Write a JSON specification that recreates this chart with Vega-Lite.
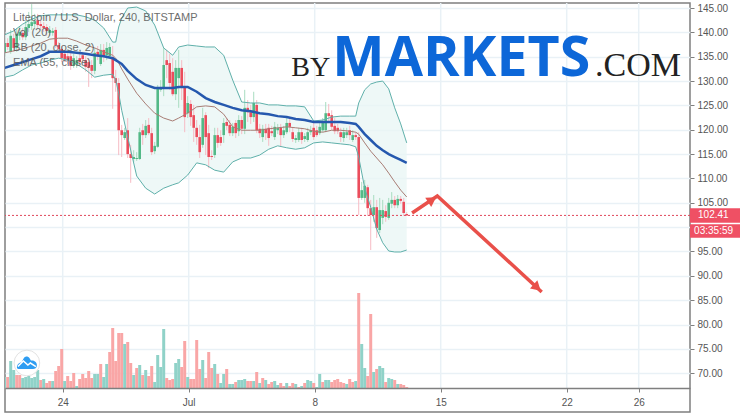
{
"$schema":"https://vega.github.io/schema/vega-lite/v6.json",
"width":685,"height":409,"autosize":"none",
"padding":{"left":5,"top":3,"right":50,"bottom":6},
"background":"white",
"view":{"stroke":"#7f7f7f","strokeWidth":1.5,"fill":"white"},
"config":{"text":{"font":"Liberation Sans"},"axis":{"labelFont":"Liberation Sans"}},
"datasets":{
"candles":[
{"k":-19,"o":135.8,"c":137.8,"h":138.8,"l":135.1},{"k":-18,"o":137.8,"c":137.0,"h":138.8,"l":136.4},{"k":-17,"o":136.0,"c":139.3,"h":140.5,"l":135.6},{"k":-16,"o":138.8,"c":136.8,"h":139.7,"l":136.0},{"k":-15,"o":136.8,"c":139.7,"h":140.9,"l":136.0},{"k":-14,"o":139.3,"c":140.1,"h":141.3,"l":138.4},{"k":-13,"o":139.9,"c":139.0,"h":140.9,"l":138.4},{"k":-12,"o":139.0,"c":141.1,"h":142.5,"l":138.4},{"k":-11,"o":140.9,"c":141.7,"h":144.2,"l":140.1},{"k":-10,"o":141.3,"c":142.1,"h":145.8,"l":140.5},
{"k":-9,"o":141.7,"c":142.3,"h":143.8,"l":140.9},{"k":-8,"o":142.5,"c":141.5,"h":143.8,"l":140.9},{"k":-7,"o":141.7,"c":141.3,"h":142.5,"l":140.5},{"k":-6,"o":141.3,"c":140.9,"h":142.1,"l":140.1},{"k":-5,"o":141.1,"c":140.3,"h":141.7,"l":139.3},{"k":-4,"o":139.9,"c":140.5,"h":141.3,"l":139.3},{"k":-3,"o":139.9,"c":140.3,"h":140.9,"l":139.3},{"k":-2,"o":140.5,"c":137.4,"h":141.1,"l":136.8},{"k":-1,"o":137.4,"c":136.6,"h":138.0,"l":136.0},{"k":0,"o":136.6,"c":134.7,"h":137.2,"l":133.9},
{"k":1,"o":135.6,"c":134.5,"h":136.4,"l":133.9},{"k":2,"o":135.1,"c":134.3,"h":136.0,"l":133.5},{"k":3,"o":135.1,"c":133.1,"h":136.0,"l":132.3},{"k":4,"o":133.1,"c":134.7,"h":135.6,"l":132.7},{"k":5,"o":133.3,"c":134.3,"h":135.1,"l":132.7},{"k":6,"o":134.7,"c":133.9,"h":135.6,"l":133.1},{"k":7,"o":135.3,"c":134.5,"h":136.0,"l":133.9},{"k":8,"o":134.3,"c":132.9,"h":135.1,"l":131.9},{"k":9,"o":133.9,"c":132.7,"h":134.7,"l":128.8},{"k":10,"o":133.3,"c":132.1,"h":134.3,"l":130.6},
{"k":11,"o":132.1,"c":135.8,"h":136.8,"l":131.4},{"k":12,"o":136.0,"c":135.3,"h":137.2,"l":134.3},{"k":13,"o":133.5,"c":136.4,"h":137.6,"l":133.1},{"k":14,"o":136.4,"c":135.1,"h":137.6,"l":133.9},{"k":15,"o":135.3,"c":136.8,"h":138.0,"l":134.3},{"k":16,"o":135.1,"c":137.0,"h":137.8,"l":134.7},{"k":17,"o":134.9,"c":130.6,"h":137.2,"l":124.3},{"k":18,"o":130.6,"c":129.6,"h":132.3,"l":127.8},{"k":19,"o":129.6,"c":119.9,"h":130.6,"l":114.8},{"k":20,"o":119.9,"c":118.9,"h":121.0,"l":114.4},
{"k":21,"o":118.3,"c":119.5,"h":120.4,"l":117.9},{"k":22,"o":119.9,"c":115.0,"h":122.4,"l":114.2},{"k":23,"o":115.0,"c":114.2,"h":116.9,"l":109.1},{"k":24,"o":114.0,"c":114.4,"h":115.8,"l":113.4},{"k":25,"o":114.0,"c":114.2,"h":115.4,"l":113.6},{"k":26,"o":114.0,"c":119.5,"h":120.4,"l":113.8},{"k":27,"o":119.9,"c":118.9,"h":121.2,"l":116.9},{"k":28,"o":118.9,"c":120.8,"h":122.0,"l":118.3},{"k":29,"o":121.0,"c":119.3,"h":122.4,"l":118.9},{"k":30,"o":119.3,"c":115.4,"h":120.4,"l":114.8},
{"k":31,"o":115.6,"c":116.7,"h":117.5,"l":115.0},{"k":32,"o":116.5,"c":128.6,"h":129.2,"l":116.3},{"k":33,"o":128.2,"c":128.6,"h":130.2,"l":127.8},{"k":34,"o":128.6,"c":133.3,"h":136.8,"l":126.9},{"k":35,"o":134.3,"c":133.3,"h":136.4,"l":130.6},{"k":36,"o":133.7,"c":129.6,"h":135.6,"l":128.2},{"k":37,"o":131.9,"c":127.3,"h":134.7,"l":126.9},{"k":38,"o":127.3,"c":132.7,"h":134.3,"l":126.1},{"k":39,"o":130.6,"c":132.7,"h":136.4,"l":124.5},{"k":40,"o":132.7,"c":128.6,"h":134.3,"l":126.1},
{"k":41,"o":128.8,"c":122.6,"h":131.9,"l":119.5},{"k":42,"o":123.4,"c":125.5,"h":126.9,"l":122.4},{"k":43,"o":125.3,"c":122.6,"h":126.1,"l":120.8},{"k":44,"o":123.0,"c":120.4,"h":125.1,"l":117.5},{"k":45,"o":120.4,"c":118.5,"h":122.0,"l":116.9},{"k":46,"o":118.5,"c":115.4,"h":121.0,"l":114.2},{"k":47,"o":116.9,"c":122.4,"h":124.5,"l":116.3},{"k":48,"o":123.0,"c":118.5,"h":123.6,"l":114.8},{"k":49,"o":119.3,"c":114.4,"h":121.0,"l":112.1},{"k":50,"o":114.6,"c":114.4,"h":115.8,"l":113.8},
{"k":51,"o":114.8,"c":118.9,"h":120.4,"l":114.2},{"k":52,"o":118.9,"c":117.3,"h":120.4,"l":116.3},{"k":53,"o":118.5,"c":117.3,"h":119.9,"l":116.7},{"k":54,"o":118.9,"c":121.4,"h":122.4,"l":117.3},{"k":55,"o":121.6,"c":120.8,"h":122.4,"l":119.9},{"k":56,"o":121.0,"c":119.3,"h":122.0,"l":118.7},{"k":57,"o":119.3,"c":120.6,"h":121.4,"l":118.7},{"k":58,"o":121.4,"c":119.3,"h":122.0,"l":118.3},{"k":59,"o":119.7,"c":122.0,"h":123.0,"l":118.7},{"k":60,"o":122.0,"c":120.2,"h":122.8,"l":119.1},
{"k":61,"o":120.2,"c":124.5,"h":128.2,"l":119.1},{"k":62,"o":124.5,"c":123.6,"h":126.1,"l":121.6},{"k":63,"o":123.6,"c":122.6,"h":125.1,"l":121.2},{"k":64,"o":122.6,"c":125.5,"h":127.8,"l":121.6},{"k":65,"o":125.1,"c":119.9,"h":126.1,"l":119.3},{"k":66,"o":120.2,"c":119.3,"h":121.2,"l":118.3},{"k":67,"o":118.5,"c":120.2,"h":121.0,"l":117.5},{"k":68,"o":120.2,"c":119.3,"h":121.2,"l":117.9},{"k":69,"o":120.4,"c":118.3,"h":121.2,"l":116.7},{"k":70,"o":119.7,"c":119.3,"h":120.8,"l":118.7},
{"k":71,"o":118.5,"c":120.6,"h":121.6,"l":117.9},{"k":72,"o":119.9,"c":120.4,"h":121.2,"l":119.1},{"k":73,"o":120.4,"c":118.9,"h":121.2,"l":116.5},{"k":74,"o":118.9,"c":119.9,"h":120.8,"l":118.3},{"k":75,"o":119.5,"c":121.4,"h":122.8,"l":119.1},{"k":76,"o":121.4,"c":120.6,"h":122.4,"l":119.5},{"k":77,"o":119.5,"c":118.1,"h":120.4,"l":117.5},{"k":78,"o":117.9,"c":118.3,"h":118.9,"l":117.3},{"k":79,"o":117.9,"c":119.5,"h":120.4,"l":117.5},{"k":80,"o":119.5,"c":117.9,"h":120.4,"l":117.1},
{"k":81,"o":118.1,"c":118.7,"h":119.3,"l":117.5},{"k":82,"o":117.9,"c":119.5,"h":120.4,"l":117.5},{"k":83,"o":119.5,"c":119.9,"h":120.8,"l":118.9},{"k":84,"o":120.4,"c":118.5,"h":121.6,"l":117.9},{"k":85,"o":119.9,"c":118.9,"h":120.8,"l":118.5},{"k":86,"o":119.3,"c":120.6,"h":121.6,"l":118.9},{"k":87,"o":119.9,"c":121.6,"h":122.4,"l":119.5},{"k":88,"o":119.9,"c":123.4,"h":125.7,"l":119.5},{"k":89,"o":123.4,"c":122.8,"h":125.3,"l":121.6},{"k":90,"o":123.0,"c":120.6,"h":124.0,"l":119.9},
{"k":91,"o":120.8,"c":119.7,"h":122.4,"l":119.1},{"k":92,"o":120.4,"c":119.7,"h":121.2,"l":119.1},{"k":93,"o":119.5,"c":118.5,"h":120.4,"l":117.5},{"k":94,"o":118.3,"c":119.5,"h":120.4,"l":117.5},{"k":95,"o":118.9,"c":119.5,"h":120.4,"l":118.3},{"k":96,"o":119.9,"c":118.9,"h":120.8,"l":117.9},{"k":97,"o":117.9,"c":118.9,"h":119.9,"l":117.5},{"k":98,"o":118.9,"c":118.5,"h":119.5,"l":117.9},{"k":99,"o":118.5,"c":106.0,"h":119.5,"l":102.5},{"k":100,"o":106.0,"c":107.6,"h":109.3,"l":105.6},
{"k":101,"o":106.0,"c":108.5,"h":109.7,"l":105.0},{"k":102,"o":108.2,"c":103.9,"h":108.7,"l":102.3},{"k":103,"o":103.9,"c":102.5,"h":105.6,"l":95.3},{"k":104,"o":102.5,"c":104.1,"h":106.6,"l":101.1},{"k":105,"o":104.1,"c":99.8,"h":105.6,"l":97.8},{"k":106,"o":99.4,"c":103.5,"h":106.0,"l":98.8},{"k":107,"o":101.9,"c":103.5,"h":105.6,"l":100.6},{"k":108,"o":103.3,"c":102.1,"h":104.5,"l":101.1},{"k":109,"o":101.9,"c":105.0,"h":106.0,"l":101.5},{"k":110,"o":104.8,"c":105.6,"h":107.2,"l":103.9},
{"k":111,"o":105.6,"c":104.5,"h":106.4,"l":103.9},{"k":112,"o":104.5,"c":105.8,"h":106.6,"l":103.9},{"k":113,"o":105.8,"c":105.4,"h":106.4,"l":104.8},{"k":114,"o":105.2,"c":102.9,"h":106.0,"l":102.3},{"k":115,"o":102.7,"c":102.41,"h":103.1,"l":102.3}
],
"volume":[
{"k":-19,"v":11,"d":"u"},{"k":-18,"v":11,"d":"d"},{"k":-17,"v":27,"d":"u"},{"k":-16,"v":18,"d":"u"},{"k":-15,"v":13,"d":"d"},{"k":-14,"v":13,"d":"d"},{"k":-13,"v":10,"d":"u"},{"k":-12,"v":11,"d":"u"},{"k":-11,"v":12,"d":"u"},{"k":-10,"v":10,"d":"u"},{"k":-9,"v":11,"d":"u"},{"k":-8,"v":18,"d":"u"},{"k":-7,"v":8,"d":"d"},{"k":-6,"v":9,"d":"u"},{"k":-5,"v":5,"d":"d"},{"k":-4,"v":7,"d":"d"},{"k":-3,"v":7,"d":"u"},{"k":-2,"v":17,"d":"d"},{"k":-1,"v":22,"d":"d"},{"k":0,"v":39,"d":"d"},
{"k":1,"v":7,"d":"u"},{"k":2,"v":12,"d":"d"},{"k":3,"v":7,"d":"d"},{"k":4,"v":15,"d":"d"},{"k":5,"v":2,"d":"u"},{"k":6,"v":9,"d":"d"},{"k":7,"v":14,"d":"d"},{"k":8,"v":10,"d":"d"},{"k":9,"v":17,"d":"d"},{"k":10,"v":10,"d":"d"},{"k":11,"v":14,"d":"u"},{"k":12,"v":14,"d":"u"},{"k":13,"v":24,"d":"d"},{"k":14,"v":11,"d":"u"},{"k":15,"v":24,"d":"u"},{"k":16,"v":36,"d":"d"},{"k":17,"v":60,"d":"d"},{"k":18,"v":27,"d":"d"},{"k":19,"v":55,"d":"d"},{"k":20,"v":55,"d":"d"},
{"k":21,"v":44,"d":"u"},{"k":22,"v":46,"d":"d"},{"k":23,"v":25,"d":"d"},{"k":24,"v":13,"d":"u"},{"k":25,"v":20,"d":"d"},{"k":26,"v":23,"d":"u"},{"k":27,"v":13,"d":"d"},{"k":28,"v":18,"d":"u"},{"k":29,"v":12,"d":"d"},{"k":30,"v":22,"d":"d"},{"k":31,"v":6,"d":"u"},{"k":32,"v":33,"d":"u"},{"k":33,"v":21,"d":"u"},{"k":34,"v":59,"d":"u"},{"k":35,"v":10,"d":"d"},{"k":36,"v":8,"d":"d"},{"k":37,"v":9,"d":"d"},{"k":38,"v":25,"d":"u"},{"k":39,"v":29,"d":"u"},{"k":40,"v":21,"d":"d"},
{"k":41,"v":47,"d":"d"},{"k":42,"v":11,"d":"u"},{"k":43,"v":9,"d":"d"},{"k":44,"v":9,"d":"d"},{"k":45,"v":48,"d":"d"},{"k":46,"v":19,"d":"d"},{"k":47,"v":28,"d":"u"},{"k":48,"v":10,"d":"d"},{"k":49,"v":36,"d":"d"},{"k":50,"v":20,"d":"d"},{"k":51,"v":24,"d":"u"},{"k":52,"v":14,"d":"d"},{"k":53,"v":5,"d":"u"},{"k":54,"v":14,"d":"u"},{"k":55,"v":19,"d":"d"},{"k":56,"v":4,"d":"u"},{"k":57,"v":4,"d":"u"},{"k":58,"v":6,"d":"d"},{"k":59,"v":8,"d":"u"},{"k":60,"v":8,"d":"u"},
{"k":61,"v":9,"d":"u"},{"k":62,"v":7,"d":"d"},{"k":63,"v":7,"d":"d"},{"k":64,"v":7,"d":"u"},{"k":65,"v":16,"d":"d"},{"k":66,"v":5,"d":"u"},{"k":67,"v":10,"d":"d"},{"k":68,"v":8,"d":"u"},{"k":69,"v":4,"d":"d"},{"k":70,"v":6,"d":"d"},{"k":71,"v":7,"d":"u"},{"k":72,"v":3,"d":"u"},{"k":73,"v":5,"d":"d"},{"k":74,"v":2,"d":"d"},{"k":75,"v":5,"d":"u"},{"k":76,"v":2,"d":"d"},{"k":77,"v":5,"d":"d"},{"k":78,"v":4,"d":"u"},{"k":79,"v":1,"d":"d"},{"k":80,"v":2,"d":"u"},
{"k":81,"v":5,"d":"d"},{"k":82,"v":8,"d":"u"},{"k":83,"v":7,"d":"u"},{"k":84,"v":5,"d":"d"},{"k":85,"v":1,"d":"u"},{"k":86,"v":14,"d":"u"},{"k":87,"v":6,"d":"d"},{"k":88,"v":8,"d":"u"},{"k":89,"v":8,"d":"u"},{"k":90,"v":6,"d":"d"},{"k":91,"v":8,"d":"d"},{"k":92,"v":9,"d":"d"},{"k":93,"v":6,"d":"d"},{"k":94,"v":5,"d":"d"},{"k":95,"v":4,"d":"u"},{"k":96,"v":9,"d":"d"},{"k":97,"v":6,"d":"d"},{"k":98,"v":7,"d":"u"},{"k":99,"v":95,"d":"d"},{"k":100,"v":44,"d":"u"},
{"k":101,"v":20,"d":"u"},{"k":102,"v":12,"d":"d"},{"k":103,"v":74,"d":"d"},{"k":104,"v":16,"d":"u"},{"k":105,"v":19,"d":"d"},{"k":106,"v":22,"d":"u"},{"k":107,"v":20,"d":"u"},{"k":108,"v":6,"d":"d"},{"k":109,"v":10,"d":"u"},{"k":110,"v":9,"d":"u"},{"k":111,"v":8,"d":"d"},{"k":112,"v":4,"d":"u"},{"k":113,"v":4,"d":"d"},{"k":114,"v":3,"d":"d"},{"k":115,"v":1,"d":"d"}
],
"bands":[
{"k":-19,"u":139.5,"b":135.8,"w":130.8,"e":132.7},{"k":-16,"u":140.3,"b":136.2,"w":131.2,"e":133.3},{"k":-13,"u":141.7,"b":136.6,"w":132.3,"e":133.9},{"k":-10,"u":142.7,"b":137.2,"w":133.3,"e":134.5},{"k":-7,"u":143.4,"b":137.8,"w":133.7,"e":135.1},{"k":-4,"u":143.6,"b":138.6,"w":134.3,"e":136.0},{"k":-1,"u":143.6,"b":138.8,"w":134.7,"e":136.0},{"k":2,"u":143.6,"b":138.8,"w":134.3,"e":136.0},{"k":5,"u":143.6,"b":138.2,"w":133.5,"e":135.8},{"k":8,"u":143.2,"b":137.4,"w":132.3,"e":135.6},
{"k":11,"u":142.5,"b":136.8,"w":130.8,"e":135.3},{"k":14,"u":140.9,"b":136.0,"w":131.2,"e":135.1},{"k":17,"u":138.0,"b":135.3,"w":131.4,"e":134.7},{"k":18,"u":138.0,"b":134.7,"w":130.2,"e":134.3},{"k":19,"u":141.1,"b":133.7,"w":127.5,"e":133.9},{"k":20,"u":142.9,"b":132.5,"w":124.0,"e":133.5},{"k":22,"u":145.0,"b":130.4,"w":118.5,"e":132.1},{"k":25,"u":145.2,"b":127.5,"w":110.5,"e":130.4},{"k":28,"u":144.4,"b":125.3,"w":108.0,"e":129.2},{"k":31,"u":141.5,"b":123.4,"w":106.8,"e":128.6},
{"k":34,"u":136.8,"b":122.4,"w":108.0,"e":128.6},{"k":37,"u":135.3,"b":121.8,"w":108.7,"e":128.6},{"k":39,"u":137.0,"b":122.4,"w":109.1,"e":128.8},{"k":42,"u":137.4,"b":123.4,"w":110.7,"e":128.8},{"k":45,"u":137.2,"b":124.7,"w":113.2,"e":127.8},{"k":48,"u":137.0,"b":124.9,"w":112.8,"e":126.5},{"k":51,"u":137.0,"b":124.7,"w":111.7,"e":125.7},{"k":54,"u":135.3,"b":123.2,"w":111.3,"e":125.1},{"k":57,"u":130.2,"b":120.6,"w":113.4,"e":124.5},{"k":60,"u":125.7,"b":119.9,"w":114.2,"e":124.0},
{"k":63,"u":125.5,"b":119.9,"w":114.2,"e":123.8},{"k":66,"u":125.5,"b":119.9,"w":114.8,"e":123.4},{"k":69,"u":125.1,"b":120.2,"w":116.0,"e":123.2},{"k":72,"u":125.1,"b":120.4,"w":116.7,"e":122.8},{"k":75,"u":124.9,"b":120.6,"w":116.3,"e":122.6},{"k":78,"u":124.9,"b":120.4,"w":116.0,"e":122.2},{"k":81,"u":124.7,"b":120.2,"w":116.3,"e":122.0},{"k":84,"u":121.8,"b":119.7,"w":117.3,"e":121.6},{"k":87,"u":122.0,"b":119.5,"w":117.5,"e":121.6},{"k":90,"u":122.6,"b":119.9,"w":117.3,"e":121.6},
{"k":93,"u":122.8,"b":119.9,"w":117.1,"e":121.6},{"k":96,"u":122.8,"b":119.7,"w":116.9,"e":121.4},{"k":98,"u":122.8,"b":119.5,"w":116.5,"e":121.2},{"k":99,"u":125.5,"b":119.1,"w":114.4,"e":120.6},{"k":101,"u":128.2,"b":117.3,"w":108.0,"e":119.1},{"k":103,"u":129.4,"b":115.6,"w":104.1,"e":117.9},{"k":105,"u":129.8,"b":114.2,"w":99.6,"e":116.7},{"k":107,"u":130.0,"b":112.8,"w":96.8,"e":115.8},{"k":109,"u":128.4,"b":111.1,"w":95.1,"e":115.0},{"k":111,"u":124.5,"b":109.3,"w":94.9,"e":114.4},{"k":113,"u":121.2,"b":107.6,"w":94.9,"e":113.8},{"k":115,"u":117.3,"b":106.2,"w":95.3,"e":113.2}
]
},
"layer":[
{"data":{"values":[{"p":70},{"p":75},{"p":80},{"p":85},{"p":90},{"p":95},{"p":100},{"p":105},{"p":110},{"p":115},{"p":120},{"p":125},{"p":130},{"p":135},{"p":140},{"p":145}]},
 "mark":{"type":"rule","opacity":0},
 "encoding":{
  "y":{"field":"p","type":"quantitative","title":null,"scale":{"domain":[62.04,146.03],"nice":false,"zero":false},
   "axis":{"orient":"right","values":[70,75,80,85,90,95,100,105,110,115,120,125,130,135,140,145],"labelExpr":"datum.value==100?'':format(datum.value,'.2f')","grid":true,"gridColor":"#e9f1f6","gridWidth":1.5,"domain":false,"tickColor":"#7f7f7f","tickSize":4,"labelColor":"#555","labelFontSize":10,"labelPadding":3,"labelFlush":false,"labelOverlap":false}}
 }},
{"layer":[
{"data":{"values":[{"k":0.33},{"k":42.33},{"k":84.33},{"k":126.33},{"k":168.33},{"k":192.33}]},
 "mark":{"type":"rule","color":"#e9f1f6","strokeWidth":1.5},
 "encoding":{
  "x":{"field":"k","type":"quantitative","title":null,"scale":{"domain":[-18.9,209.43],"nice":false,"zero":false,"padding":0},
   "axis":{"values":[0.33,42.33,84.33,126.33,168.33,192.33],"format":".2f","labelExpr":"datum.value<1?'24':datum.value<43?'Jul':datum.value<85?'8':datum.value<127?'15':datum.value<169?'22':'26'","offset":-24,"grid":false,"domainColor":"#7f7f7f","domainWidth":1.5,"tickColor":"#7f7f7f","tickSize":4,"labelColor":"#555","labelFontSize":10,"labelPadding":5,"labelFlush":false,"labelOverlap":false,"zindex":1}},
  "y":{"datum":385,"type":"quantitative","title":null,"axis":null,"scale":{"domain":[-24,385],"nice":false,"zero":false}},
  "y2":{"datum":0}
 }},
{"data":{"name":"volume"},
 "mark":{"type":"bar","size":3,"clip":true},
 "encoding":{
  "x":{"field":"k","type":"quantitative","title":null},
  "y":{"field":"v","type":"quantitative","axis":null},
  "y2":{"datum":0},
  "color":{"condition":{"test":"datum.d==='u'","value":"#90d2c8"},"value":"#f9a6a6"}
 }}
]},
{"layer":[
{"data":{"name":"bands"},
 "mark":{"type":"area","color":"#e8f5f4","opacity":0.75,"clip":true},
 "encoding":{
  "x":{"field":"k","type":"quantitative","title":null},
  "y":{"field":"u","type":"quantitative","axis":null,"scale":{"domain":[62.04,146.03],"nice":false,"zero":false}},
  "y2":{"field":"w"}
 }},
{"data":{"name":"candles"},
 "mark":{"type":"rule","strokeWidth":1,"clip":true},
 "encoding":{
  "x":{"field":"k","type":"quantitative","title":null},
  "y":{"field":"h","type":"quantitative","axis":null},
  "y2":{"field":"l"},
  "color":{"condition":{"test":"datum.c>=datum.o","value":"#a9dcc0"},"value":"#f6bcc4"}
 }},
{"data":{"name":"candles"},
 "mark":{"type":"bar","size":2.6,"clip":true},
 "encoding":{
  "x":{"field":"k","type":"quantitative","title":null},
  "y":{"field":"o","type":"quantitative","axis":null},
  "y2":{"field":"c"},
  "color":{"condition":{"test":"datum.c>=datum.o","value":"#53b987"},"value":"#eb4d5c"}
 }},
{"data":{"name":"bands"},
 "mark":{"type":"line","color":"#a87c74","strokeWidth":1,"clip":true},
 "encoding":{"x":{"field":"k","type":"quantitative","title":null},"y":{"field":"b","type":"quantitative","axis":null}}},
{"data":{"name":"bands"},
 "mark":{"type":"line","color":"#5fb0aa","strokeWidth":1,"clip":true},
 "encoding":{"x":{"field":"k","type":"quantitative","title":null},"y":{"field":"u","type":"quantitative","axis":null}}},
{"data":{"name":"bands"},
 "mark":{"type":"line","color":"#5fb0aa","strokeWidth":1,"clip":true},
 "encoding":{"x":{"field":"k","type":"quantitative","title":null},"y":{"field":"w","type":"quantitative","axis":null}}},
{"data":{"name":"bands"},
 "mark":{"type":"line","color":"#2558ae","strokeWidth":2.5,"clip":true},
 "encoding":{"x":{"field":"k","type":"quantitative","title":null},"y":{"field":"e","type":"quantitative","axis":null}}},
{"data":{"values":[{"p":102.41}]},
 "mark":{"type":"rule","stroke":"#e0475b","color":"#e0475b","strokeWidth":1,"strokeDash":[2,2]},
 "encoding":{"y":{"field":"p","type":"quantitative","axis":null}}},
{"data":{"values":[{"k":209.43,"k2":226.1,"a":103.9,"b":100.9},{"k":209.43,"k2":226.1,"a":100.6,"b":97.8}]},
 "mark":{"type":"rect","color":"#ef5064"},
 "encoding":{"x":{"field":"k","type":"quantitative","title":null},"x2":{"field":"k2"},"y":{"field":"a","type":"quantitative","axis":null},"y2":{"field":"b"}}},
{"data":{"values":[{"k":212.1,"p":102.41,"t":"102.41"},{"k":210.8,"p":99.2,"t":"03:35:59"}]},
 "mark":{"type":"text","align":"left","baseline":"middle","color":"white","fontSize":10},
 "encoding":{"x":{"field":"k","type":"quantitative","title":null},"y":{"field":"p","type":"quantitative","axis":null},"text":{"field":"t"}}},
{"data":{"values":[{"k":116.8,"p":102.9},{"k":125.2,"p":106.4},{"k":160,"p":86.7}]},
 "mark":{"type":"line","color":"#e9504a","strokeWidth":3.5},
 "encoding":{"x":{"field":"k","type":"quantitative","title":null},"y":{"field":"p","type":"quantitative","axis":null},"order":{"field":"k"}}},
{"data":{"values":[{"k":123.5,"p":105.6}]},
 "mark":{"type":"point","shape":"triangle-up","filled":true,"opacity":1,"color":"#e9504a","size":120,"angle":57},
 "encoding":{"x":{"field":"k","type":"quantitative","title":null},"y":{"field":"p","type":"quantitative","axis":null}}},
{"data":{"values":[{"k":158.5,"p":87.6}]},
 "mark":{"type":"point","shape":"triangle-up","filled":true,"opacity":1,"color":"#e9504a","size":120,"angle":132},
 "encoding":{"x":{"field":"k","type":"quantitative","title":null},"y":{"field":"p","type":"quantitative","axis":null}}},
{"data":{"values":[{"k":-11.6,"p":72.1}]},
 "mark":{"type":"point","shape":"circle","filled":true,"opacity":1,"fill":"white","stroke":"#e3e3e3","strokeWidth":1,"size":660},
 "encoding":{"x":{"field":"k","type":"quantitative","title":null},"y":{"field":"p","type":"quantitative","axis":null}}},
{"data":{"values":[{"k":-11.6,"p":72.1}]},
 "mark":{"type":"point","shape":"M-1 0.45C-1 0.1-0.75-0.05-0.55-0.05L-0.3-0.5C-0.15-0.7 0.1-0.7 0.25-0.5L0.4-0.25C0.8-0.3 1-0.05 1 0.25C1 0.5 0.8 0.6 0.6 0.6L-0.7 0.6C-0.9 0.6-1 0.55-1 0.45Z","filled":true,"opacity":1,"fill":"#2f9df2","size":400},
 "encoding":{"x":{"field":"k","type":"quantitative","title":null},"y":{"field":"p","type":"quantitative","axis":null}}},
{"data":{"values":[{"k":-11.6,"p":72.1}]},
 "mark":{"type":"point","shape":"M-0.9 0.35L-0.35-0.2L0.1 0.2L0.35 0L0.9 0.35","filled":false,"opacity":1,"stroke":"white","strokeWidth":1.5,"size":400},
 "encoding":{"x":{"field":"k","type":"quantitative","title":null},"y":{"field":"p","type":"quantitative","axis":null}}},
{"data":{"values":[{"k":76.5,"p":131.1,"t":"BY"}]},
 "mark":{"type":"text","align":"left","baseline":"alphabetic","font":"Liberation Serif","fontSize":28,"color":"#222"},
 "encoding":{"x":{"field":"k","type":"quantitative","title":null},"y":{"field":"p","type":"quantitative","axis":null},"text":{"field":"t"}}},
{"data":{"values":[{"k":90.2,"p":131.1,"t":"MARKETS"}]},
 "mark":{"type":"text","align":"left","baseline":"alphabetic","font":"Open Sans","fontWeight":"bold","fontSize":55.5,"color":"#0d67d8"},
 "encoding":{"x":{"field":"k","type":"quantitative","title":null},"y":{"field":"p","type":"quantitative","axis":null},"text":{"field":"t"}}},
{"data":{"values":[{"k":177.8,"p":131.1,"t":".COM"}]},
 "mark":{"type":"text","align":"left","baseline":"alphabetic","font":"Liberation Serif","fontSize":34,"color":"#222"},
 "encoding":{"x":{"field":"k","type":"quantitative","title":null},"y":{"field":"p","type":"quantitative","axis":null},"text":{"field":"t"}}},
{"data":{"values":[{"k":-16.2,"p":142.9,"t":"Litecoin / U.S. Dollar, 240, BITSTAMP"},{"k":-16.2,"p":139.9,"t":"Vol (20)"},{"k":-16.2,"p":136.8,"t":"BB (20, close, 2)"},{"k":-16.2,"p":133.7,"t":"EMA (55, close)"}]},
 "mark":{"type":"text","align":"left","baseline":"middle","fontSize":11,"color":"#555","opacity":0.85},
 "encoding":{"x":{"field":"k","type":"quantitative","title":null},"y":{"field":"p","type":"quantitative","axis":null},"text":{"field":"t"}}}
]}
],
"resolve":{"scale":{"y":"independent"}}
}
